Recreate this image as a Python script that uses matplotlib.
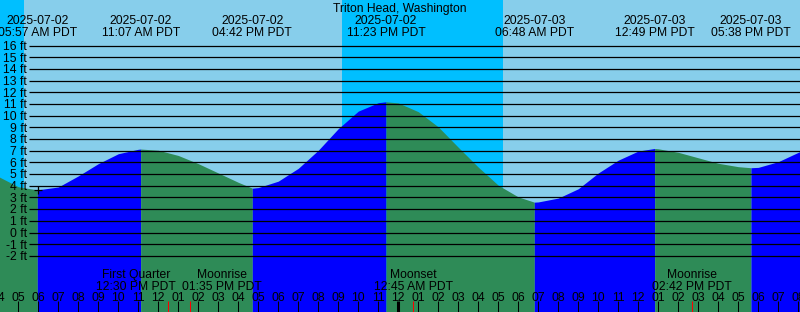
import numpy as np
import matplotlib.pyplot as plt

# Triton Head, Washington - tide graph, 2025-07-02 / 2025-07-03 (PDT)
# time is given as hours after 2025-07-02 00:00
titulo = "Triton Head, Washington"

tide_hours = [4.0, 5.0, 5.95, 7.0, 8.0, 9.0, 10.0, 11.0, 11.117, 12.0, 13.0, 14.0,
              15.0, 16.0, 16.7, 17.0, 18.0, 19.0, 20.0, 21.0, 22.0, 23.0, 23.383,
              24.0, 25.0, 26.0, 27.0, 28.0, 29.0, 30.0, 30.8, 31.0, 32.0, 33.0,
              34.0, 35.0, 36.0, 36.817, 37.0, 38.0, 39.0, 40.0, 41.0, 41.633,
              42.0, 43.0, 44.0, 44.5]
tide_ft = [4.8, 3.92, 3.65, 3.9, 4.85, 5.9, 6.75, 7.13, 7.15, 7.05, 6.6, 5.9,
           5.1, 4.3, 3.8, 3.85, 4.4, 5.5, 7.05, 8.9, 10.4, 11.12, 11.2,
           11.1, 10.35, 9.05, 7.3, 5.6, 4.05, 3.05, 2.6, 2.62, 2.95, 3.75,
           5.1, 6.2, 6.98, 7.2, 7.17, 6.87, 6.4, 5.93, 5.64, 5.55,
           5.58, 6.07, 6.87, 7.25]

# highs and lows shown at the top
extremo_hours = [5.95, 11.117, 16.7, 23.383, 30.8, 36.817, 41.633]
extremo_fecha = ["2025-07-02", "2025-07-02", "2025-07-02", "2025-07-02",
                 "2025-07-03", "2025-07-03", "2025-07-03"]
extremo_hora = ["05:57 AM PDT", "11:07 AM PDT", "04:42 PM PDT", "11:23 PM PDT",
                "06:48 AM PDT", "12:49 PM PDT", "05:38 PM PDT"]

# night (sunset -> sunrise)
noche_inicio = [0.0, 21.183]
noche_fin = [5.283, 29.217]

# moon events at the bottom
luna_hours = [12.5, 13.583, 24.75, 38.7]
luna_evento = ["First Quarter", "Moonrise", "Moonset", "Moonrise"]
luna_hora = ["12:30 PM PDT", "01:35 PM PDT", "12:45 AM PDT", "02:42 PM PDT"]
luna_desplazamiento = [-1.6, 1.6, 0.0, 0.0]  # labels pushed apart (hours)

niveles_ft = list(range(-2, 17))

# colores
cielo_dia = "#87CEEB"
cielo_noche = "#00BFFF"
sube = "#0000FF"
baja = "#2E8B57"

plt.rcParams['font.family'] = ['Liberation Sans', 'DejaVu Sans']
fs = 8.7

t0 = 4.085           # left edge (hours)
t1 = t0 + 40.0       # right edge
y0, y1 = -6.81, 19.92
px_h = 1 / 20.0      # one pixel in hours

fig = plt.figure(figsize=(8, 3.12), dpi=100)
fig.patch.set_facecolor(cielo_dia)
ax = fig.add_axes([0, 0, 1, 1])
ax.axis('off')
ax.set_xlim(t0, t1)
ax.set_ylim(y0, y1)

for a, b in zip(noche_inicio, noche_fin):
    ax.axvspan(a, b, color=cielo_noche, lw=0)

# tide fill, blue while rising, green while falling
t = np.array(tide_hours)
h = np.array(tide_ft)
signo = np.sign(np.diff(h))
i = 0
while i < len(signo):
    j = i
    while j + 1 < len(signo) and signo[j + 1] == signo[i]:
        j += 1
    ax.fill_between(t[i:j + 2], y0, h[i:j + 2], color=sube if signo[i] > 0 else baja,
                    lw=0, antialiased=False)
    i = j + 1

# level lines and labels
for n in niveles_ft:
    ax.plot([t0 + 29.3 * px_h, t1], [n, n], color='black', lw=0.9, solid_capstyle='butt')
    ax.text(t0 + 27 * px_h, n - 0.37, f"{n} ft", ha='right', va='baseline', fontsize=fs)

# now marker
ax.plot([5.99], [3.64], marker='+', color='black', ms=6, mew=0.9)

# title and extremes
ax.text((t0 + t1) / 2, 18.92, titulo, ha='center', va='baseline', fontsize=fs)
for x, f, s in zip(extremo_hours, extremo_fecha, extremo_hora):
    ax.text(x, 17.87, f, ha='center', va='baseline', fontsize=fs)
    ax.text(x, 16.84, s, ha='center', va='baseline', fontsize=fs)

# hour ticks
for hr in range(4, 45):
    ancho = 2.2 if hr == 24 else 0.75
    ax.plot([hr, hr], [-5.91, y0], color='black', lw=ancho, solid_capstyle='butt')
    etiqueta = f"{(hr % 12) or 12:02d}"
    ax.text(hr, -5.84, etiqueta, ha='center', va='baseline', fontsize=fs)

# moon events
for x, ev, s, d in zip(luna_hours, luna_evento, luna_hora, luna_desplazamiento):
    ax.plot([x, x], [-5.91, y0], color='red', lw=0.75, solid_capstyle='butt')
    ax.text(x + d, -3.92, ev, ha='center', va='baseline', fontsize=fs)
    ax.text(x + d, -4.94, s, ha='center', va='baseline', fontsize=fs)

plt.savefig("out.png", dpi=100, facecolor=fig.get_facecolor())
